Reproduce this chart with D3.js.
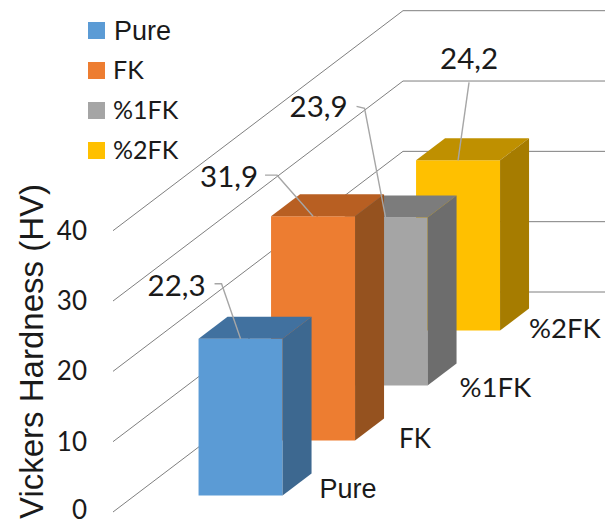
<!DOCTYPE html>
<html>
<head>
<meta charset="utf-8">
<script src="https://cdn.jsdelivr.net/npm/d3@7/dist/d3.min.js"></script>
<style>
  html, body { margin: 0; padding: 0; background: #fff; overflow: hidden; }
  text { fill: #1a1a1a; }
</style>
</head>
<body>
<svg id="chart" width="605" height="520"></svg>
<script>
// Vickers hardness by material, drawn as an oblique 3-D column chart.
const categories = ["Pure", "FK", "%1FK", "%2FK"];
const hardness = [22.3, 31.9, 23.9, 24.2];
const hardnessLabels = ["22,3", "31,9", "23,9", "24,2"];
const yTicks = [0, 10, 20, 30, 40];
const frontColors = ["#5b9bd5", "#ed7d31", "#a5a5a5", "#ffc000"];
const topColors = ["#41719f", "#b85f22", "#7c7c7c", "#bf9000"];
const sideColors = ["#3d6890", "#95521f", "#6d6d6d", "#a67c00"];

// Oblique projection: the floor origin plus a shift for height, width and depth.
const origin = { x: 113, y: 512 };
const depthVector = { x: 290, y: -220 };
const barLeft = 63.8, barWidth = 84;

const heightScale = d3.scaleLinear().domain([0, 40]).range([0, 281.3]);
const depthBand = d3.scaleBand().domain(categories).range([0, 1]).paddingInner(0.6).paddingOuter(0.3);

const project = (across, value, depth) => [
  origin.x + across + depth * depthVector.x,
  origin.y - heightScale(value) + depth * depthVector.y
];

const svg = d3.select("#chart");
const LATO = "Lato, 'Open Sans', sans-serif";
const ARIAL = "'Liberation Sans', Arial, sans-serif";

// Side wall and back wall gridlines.
const wallRight = 605;
svg.append("g").selectAll("polyline").data(yTicks).join("polyline")
  .attr("fill", "none").attr("stroke", "#7f7f7f").attr("stroke-width", 1)
  .attr("points", v => {
    const a = project(0, v, 0), b = project(0, v, 1);
    return [a, b, [wallRight, b[1]]].map(p => p.join(",")).join(" ");
  });

// Axis tick labels.
svg.append("g").selectAll("text").data(yTicks).join("text")
  .attr("x", 87).attr("y", v => Math.min(project(0, v, 0)[1] + 9, 519))
  .attr("text-anchor", "end").attr("font-family", LATO).attr("font-size", 26)
  .text(v => v);

// Axis title.
svg.append("text")
  .attr("transform", "translate(43,519) rotate(-90)")
  .attr("font-family", ARIAL).attr("font-size", 33)
  .text("Vickers Hardness (HV)");

// Columns are painted from the back of the floor to the front.
const barData = categories.map((name, i) => ({ name, i, value: hardness[i] }));
const bars = svg.append("g").selectAll("g").data(barData.slice().reverse()).join("g");
const corners = d => {
  const d0 = depthBand(d.name), d1 = d0 + depthBand.bandwidth();
  return { d0, d1, l: barLeft, r: barLeft + barWidth };
};
const poly = pts => pts.map(p => p.join(",")).join(" ");

bars.append("polygon").attr("fill", d => frontColors[d.i]).attr("points", d => {
  const c = corners(d);
  return poly([project(c.l, 0, c.d0), project(c.r, 0, c.d0), project(c.r, d.value, c.d0), project(c.l, d.value, c.d0)]);
});
bars.append("polygon").attr("fill", d => topColors[d.i]).attr("points", d => {
  const c = corners(d);
  return poly([project(c.l, d.value, c.d0), project(c.r, d.value, c.d0), project(c.r, d.value, c.d1), project(c.l, d.value, c.d1)]);
});
bars.append("polygon").attr("fill", d => sideColors[d.i]).attr("points", d => {
  const c = corners(d);
  return poly([project(c.r, 0, c.d0), project(c.r, 0, c.d1), project(c.r, d.value, c.d1), project(c.r, d.value, c.d0)]);
});

// Category labels sit just beyond the foot of each column.
const categoryOffsets = [[37, 2], [44, 7], [32, 11], [29, 7]];
svg.append("g").selectAll("text").data(barData).join("text")
  .attr("x", d => { const c = corners(d); return project(c.r, 0, c.d0)[0] + categoryOffsets[d.i][0]; })
  .attr("y", d => { const c = corners(d); return project(c.r, 0, c.d0)[1] + categoryOffsets[d.i][1]; })
  .attr("font-family", d => d.i === 0 ? ARIAL : LATO)
  .attr("font-size", d => d.i === 0 ? 27 : d.i === 1 ? 26 : 27.5)
  .text(d => d.name);

// Value labels with leader lines running to the middle of each column's top edge.
const leaderOffsets = [[[-26, -55], [-19, -55]], [[-48, -41], [-36, -41]], [[-29, -111], [-21, -109]], [[11, -78], [11, -78]]];
const labelOffsets = [[-35, -43], [-55, -29], [-38, -100], [11, -91]];
const labelAnchors = ["end", "end", "end", "middle"];
const anchorOf = d => { const c = corners(d); return project(c.l + barWidth / 2, d.value, c.d0); };

svg.append("g").selectAll("polyline").data(barData).join("polyline")
  .attr("fill", "none").attr("stroke", "#a6a6a6").attr("stroke-width", 1.4)
  .attr("points", d => {
    const a = anchorOf(d);
    const [s, e] = leaderOffsets[d.i];
    return poly([[a[0] + s[0], a[1] + s[1]], [a[0] + e[0], a[1] + e[1]], a]);
  });
svg.append("g").selectAll("text").data(barData).join("text")
  .attr("x", d => anchorOf(d)[0] + labelOffsets[d.i][0])
  .attr("y", d => anchorOf(d)[1] + labelOffsets[d.i][1])
  .attr("text-anchor", d => labelAnchors[d.i])
  .attr("font-family", LATO).attr("font-size", 29.5)
  .text(d => hardnessLabels[d.i]);

// Legend.
const legendRow = d3.scalePoint().domain(categories).range([22, 142]);
const legend = svg.append("g").selectAll("g").data(barData).join("g")
  .attr("transform", d => `translate(88,${legendRow(d.name)})`);
legend.append("rect").attr("width", 17).attr("height", 17).attr("fill", d => frontColors[d.i]);
legend.append("text").attr("x", d => d.i === 0 ? 26 : 25).attr("y", d => d.i === 0 ? 18 : 17)
  .attr("font-family", d => d.i === 0 ? ARIAL : LATO)
  .attr("font-size", d => d.i === 0 ? 27 : 25)
  .text(d => d.name);
</script>
</body>
</html>
